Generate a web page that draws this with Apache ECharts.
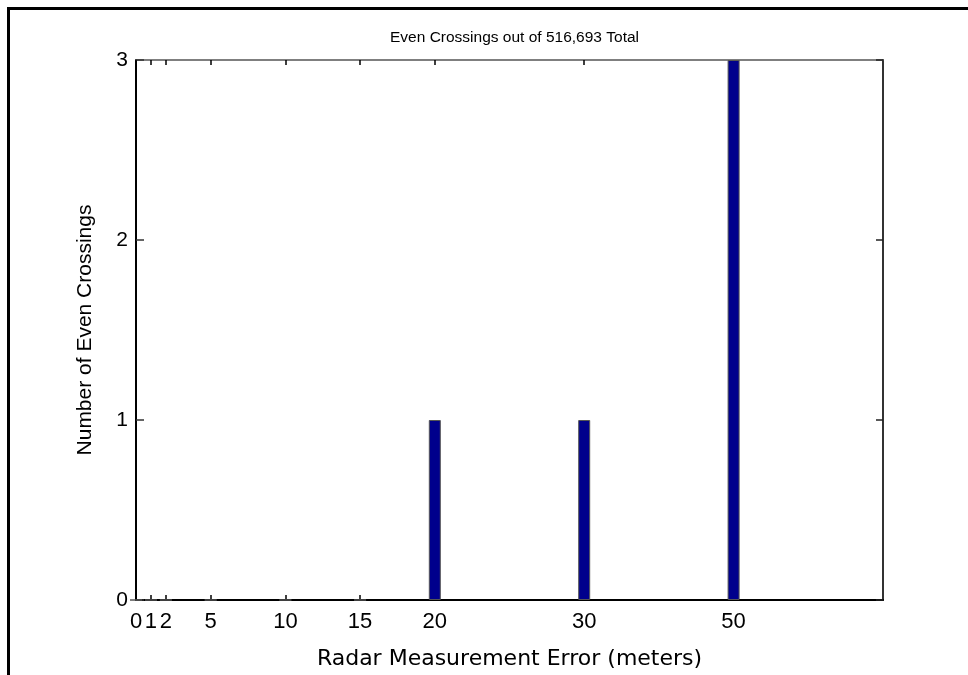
<!DOCTYPE html>
<html>
<head>
<meta charset="utf-8">
<script src="https://cdn.jsdelivr.net/npm/echarts@6/dist/echarts.min.js"></script>
<style>
html,body{margin:0;padding:0;background:#fff;}
#chart{width:968px;height:675px;}
</style>
</head>
<body>
<div id="chart"></div>
<script>
// Data
var errorLabels = ['0', '1', '2', '5', '10', '15', '20', '30', '50'];   // tick labels (meters)
var errorPositions = [0, 1, 2, 5, 10, 15, 20, 30, 40];                // where each label sits on the axis
var evenCrossings = [0, 0, 0, 0, 0, 0, 1, 1, 3];                      // bar heights
var yTicks = [0, 1, 2, 3];
var titleText = 'Even Crossings out of 516,693 Total';
var xName = 'Radar Measurement Error (meters)';
var yName = 'Number of Even Crossings';

var barData = errorPositions.map(function (p, i) { return [p, evenCrossings[i]]; });
function labelFor(v) {
  var i = errorPositions.indexOf(v);
  return i >= 0 ? errorLabels[i] : '';
}

var chart = echarts.init(document.getElementById('chart'), null, {renderer: 'canvas'});
var option = {
  backgroundColor: '#fff',
  animation: false,
  title: {
    text: titleText,
    left: 385,
    top: 25,
    textStyle: {fontFamily: 'Liberation Sans', fontSize: 15.5, fontWeight: 'normal', color: '#000'}
  },
  grid: {left: 136, right: 85, top: 60, bottom: 75, containLabel: false},
  xAxis: [{
    type: 'value', position: 'bottom', min: 0, max: 50,
    name: xName, nameLocation: 'middle', nameGap: 48,
    nameTextStyle: {fontFamily: 'DejaVu Sans', fontSize: 22, color: '#000'},
    axisLine: {show: true, onZero: false, lineStyle: {color: '#000', width: 2}},
    axisTick: {show: true, inside: true, length: 5, customValues: errorPositions, lineStyle: {color: '#000', width: 1.5}},
    axisLabel: {show: true, customValues: errorPositions, margin: 11, formatter: labelFor,
      fontFamily: 'Liberation Sans', fontSize: 22, color: '#000', hideOverlap: false},
    splitLine: {show: false}
  }, {
    type: 'value', position: 'top', min: 0, max: 50,
    axisLine: {show: true, onZero: false, lineStyle: {color: '#555', width: 1.5}},
    axisTick: {show: true, inside: true, length: 5, customValues: errorPositions, lineStyle: {color: '#000', width: 1.5}},
    axisLabel: {show: false},
    splitLine: {show: false}
  }],
  yAxis: [{
    type: 'value', position: 'left', min: 0, max: 3, interval: 1,
    name: yName, nameLocation: 'middle', nameGap: 40,
    nameTextStyle: {fontFamily: 'Liberation Sans', fontSize: 21, color: '#000'},
    axisLine: {show: true, onZero: false, lineStyle: {color: '#000', width: 2}},
    axisTick: {show: true, inside: true, length: 8, lineStyle: {color: '#333', width: 1.5}},
    axisLabel: {show: true, margin: 8, fontFamily: 'Liberation Sans', fontSize: 21, color: '#000',
      customValues: yTicks},
    splitLine: {show: false}
  }, {
    type: 'value', position: 'right', min: 0, max: 3, interval: 1,
    axisLine: {show: true, onZero: false, lineStyle: {color: '#333', width: 2}},
    axisTick: {show: true, inside: true, length: 7, lineStyle: {color: '#222', width: 1.5}},
    axisLabel: {show: false},
    splitLine: {show: false}
  }],
  series: [{
    type: 'bar',
    xAxisIndex: 0, yAxisIndex: 0,
    data: barData,
    barWidth: 12,
    itemStyle: {color: '#00008C', borderColor: '#555', borderWidth: 1}
  }],
  graphic: [{
    type: 'polyline',
    silent: true,
    shape: {points: [[8.5, 675], [8.5, 8.5], [968, 8.5]]},
    style: {stroke: '#000', lineWidth: 3, fill: null}
  }]
};
chart.setOption(option);
</script>
</body>
</html>
